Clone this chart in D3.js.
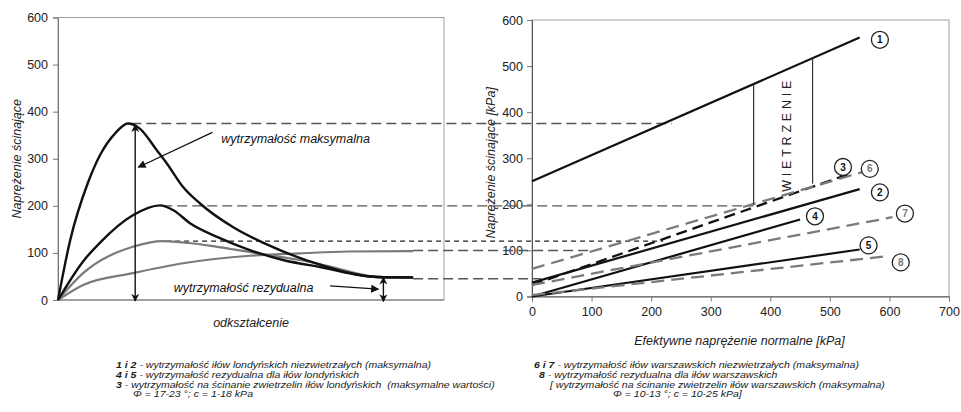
<!DOCTYPE html>
<html>
<head>
<meta charset="UTF-8">
<title>Wytrzymałość iłów</title>
<script src="https://cdn.jsdelivr.net/npm/d3@7"></script>
<style>
  body { margin: 0; background: #fff; }
  svg { display: block; font-family: "Liberation Sans", Arial, sans-serif; }
  .legend text { white-space: pre; }
</style>
</head>
<body>
<svg id="chart" width="961" height="412"></svg>
<script>
  // --- left chart: stress vs strain curves (strain in arbitrary units 0-100)
  const curve1 = [[0,0],[3.1,125],[7.8,250],[10.9,308],[14.8,354],[18.1,375],[21.2,364],[25.6,318],[28.2,290],[32.4,240],[36.8,205],[45.3,155],[54.1,118],[67.9,75],[82.6,49],[92,48]];
  const curve2 = [[0,0],[6.5,82],[10.9,122],[19.4,180],[26.4,201],[30,190],[34.2,163],[41.2,134],[49.7,106],[58.3,85],[67.9,70],[82.6,49],[92,48]];
  const curve3 = [[0,0],[6.5,57],[19.4,113],[27.2,125],[34,121],[41.2,113],[54.1,96],[62.7,85],[70,72],[82.6,49],[92,47]];
  const curve4 = [[0,0],[6.5,32],[19.4,57],[32.4,78],[49.7,94],[62.7,99],[75,103],[92,104]];
  const leftTicks = [0, 100, 200, 300, 400, 500, 600];

  // --- right chart: Coulomb envelopes [kPa]
  const lineIds = ["1", "2", "3", "4", "5", "6", "7", "8"];
  const lineX0 = [0, 0, 0, 0, 0, 0, 0, 0];
  const lineY0 = [250, 30, 25, 0, 0, 60, 25, 3];
  const lineX1 = [550, 550, 537, 450, 550, 560, 605, 600];
  const lineY1 = [562, 233, 268, 167, 102, 272, 172, 88];
  const lineKind = ["solid", "solid", "blackdash", "solid", "solid", "graydash", "graydash", "graydash"];
  const labelX = [584, 584, 522, 475, 565, 567, 626, 619];
  const labelY = [557, 226, 281, 174, 111, 277, 180, 74];
  const rightXTicks = [0, 100, 200, 300, 400, 500, 600, 700];
  const rightYTicks = [0, 100, 200, 300, 400, 500, 600];

  // weathering markers (kPa): x, top, bottom
  const weatherX = [372, 471];
  const weatherTop = [461, 517];
  const weatherBottom = [200, 245];

  // horizontal guides: level on left scale, start strain, end normal stress on right
  const guideLevel = [375, 200, 125, 105, 45];
  const guideStart = [19, 27, 28, 92, 92];
  const guideEnd = [235, 372, 220, 100, 15];
  const guideStyle = ["long", "long", "short", "long", "long"];

  const legendLeft = [
    ["1 i 2", " - wytrzymałość iłów londyńskich niezwietrzałych (maksymalna)"],
    ["4 i 5", " - wytrzymałość rezydualna dla iłów londyńskich"],
    ["3", " - wytrzymałość na ścinanie zwietrzelin iłów londyńskich  (maksymalne wartości)"],
    ["", "Φ = 17-23 °; c = 1-18 kPa"]
  ];
  const legendLeftIndent = [0, 0, 0, 17];
  const legendRight = [
    ["6 i 7", " - wytrzymałość iłów warszawskich niezwietrzałych (maksymalna)"],
    ["8", " - wytrzymałość rezydualna dla iłów warszawskich"],
    ["", "[ wytrzymałość na ścinanie zwietrzelin iłów warszawskich (maksymalna)"],
    ["", "Φ = 10-13 °; c = 10-25 kPa]"]
  ];
  const legendRightIndent = [0, 5, 16, 79];

  const svg = d3.select("#chart");

  // markers
  const defs = svg.append("defs");
  defs.append("marker").attr("id", "head")
    .attr("viewBox", "0 0 10 10").attr("refX", 9).attr("refY", 5)
    .attr("markerWidth", 10).attr("markerHeight", 8).attr("markerUnits", "userSpaceOnUse")
    .attr("orient", "auto-start-reverse")
    .append("path").attr("d", "M0,0 L10,5 L0,10 z").attr("fill", "#111");
  defs.append("marker").attr("id", "vhead")
    .attr("viewBox", "0 0 10 10").attr("refX", 9).attr("refY", 5)
    .attr("markerWidth", 8).attr("markerHeight", 8).attr("markerUnits", "userSpaceOnUse")
    .attr("orient", "auto-start-reverse")
    .append("path").attr("d", "M0,0 L10,5 L0,10 L3,5 z").attr("fill", "#111");

  // scales
  const lx = d3.scaleLinear().domain([0, 100]).range([58, 444]);
  const ly = d3.scaleLinear().domain([0, 600]).range([300, 17.5]);
  const rx = d3.scaleLinear().domain([0, 700]).range([532, 949]);
  const ry = d3.scaleLinear().domain([0, 600]).range([296.5, 20]);

  // ---------- left chart frame
  svg.append("rect").attr("x", lx(0)).attr("y", ly(600))
    .attr("width", lx(100) - lx(0)).attr("height", ly(0) - ly(600))
    .attr("fill", "none").attr("stroke", "#a0a0a0").attr("stroke-width", 1);

  const lAxis = svg.append("g").attr("transform", `translate(${lx(0)},0)`)
    .call(d3.axisLeft(ly).tickValues(leftTicks).tickSize(5).tickPadding(5));
  lAxis.select(".domain").attr("stroke", "#777");
  lAxis.selectAll(".tick line").attr("stroke", "#777");
  lAxis.selectAll("text").attr("font-size", 12.5).attr("fill", "#222")
    .attr("font-family", "'Liberation Sans', Arial, sans-serif");
  svg.append("line").attr("x1", lx(0)).attr("x2", lx(100)).attr("y1", ly(0)).attr("y2", ly(0))
    .attr("stroke", "#777");

  // ---------- right chart frame
  svg.append("rect").attr("x", rx(0)).attr("y", ry(600))
    .attr("width", rx(700) - rx(0)).attr("height", ry(0) - ry(600))
    .attr("fill", "none").attr("stroke", "#a0a0a0").attr("stroke-width", 1);

  const rAxisY = svg.append("g").attr("transform", `translate(${rx(0)},0)`)
    .call(d3.axisLeft(ry).tickValues(rightYTicks).tickSize(5).tickPadding(4));
  const rAxisX = svg.append("g").attr("transform", `translate(0,${ry(0)})`)
    .call(d3.axisBottom(rx).tickValues(rightXTicks).tickSize(5).tickPadding(6));
  [rAxisY, rAxisX].forEach(g => {
    g.select(".domain").attr("stroke", "#555");
    g.selectAll(".tick line").attr("stroke", "#777");
    g.selectAll("text").attr("font-size", 12.5).attr("fill", "#222")
      .attr("font-family", "'Liberation Sans', Arial, sans-serif");
  });

  // ---------- horizontal guide lines (drawn across both charts)
  guideLevel.forEach((v, i) => {
    const short = guideStyle[i] === "short";
    svg.append("line")
      .attr("x1", lx(guideStart[i])).attr("x2", rx(guideEnd[i]))
      .attr("y1", ly(v)).attr("y2", ly(v))
      .attr("stroke", short ? "#222" : "#555")
      .attr("stroke-width", short ? 1.1 : 1.4)
      .attr("stroke-dasharray", short ? "5,4" : "10,5");
  });

  // ---------- left curves
  const lline = d3.line().x(d => lx(d[0])).y(d => ly(d[1])).curve(d3.curveMonotoneX);
  [[curve4, "#7a7a7a", 2.2], [curve3, "#7a7a7a", 2.2], [curve2, "#111", 2.4], [curve1, "#111", 2.4]]
    .forEach(([data, col, w]) => {
      svg.append("path").datum(data).attr("d", lline)
        .attr("fill", "none").attr("stroke", col).attr("stroke-width", w);
    });

  // annotations on left chart
  svg.append("line").attr("x1", lx(20)).attr("x2", lx(20))
    .attr("y1", ly(372)).attr("y2", ly(-2))
    .attr("stroke", "#111").attr("stroke-width", 1.4)
    .attr("marker-start", "url(#vhead)").attr("marker-end", "url(#vhead)");
  svg.append("line").attr("x1", lx(40)).attr("x2", lx(20.8))
    .attr("y1", ly(356)).attr("y2", ly(282))
    .attr("stroke", "#111").attr("stroke-width", 1.3).attr("marker-end", "url(#head)");
  svg.append("text").attr("x", lx(42.3)).attr("y", ly(333))
    .attr("font-size", 12.5).attr("font-style", "italic").attr("fill", "#111")
    .text("wytrzymałość maksymalna");

  svg.append("text").attr("x", lx(30)).attr("y", ly(18))
    .attr("font-size", 12.5).attr("font-style", "italic").attr("fill", "#111")
    .text("wytrzymałość rezydualna");
  svg.append("line").attr("x1", lx(70.5)).attr("x2", lx(83))
    .attr("y1", ly(30)).attr("y2", ly(23))
    .attr("stroke", "#111").attr("stroke-width", 1.3).attr("marker-end", "url(#head)");
  svg.append("line").attr("x1", lx(84.3)).attr("x2", lx(84.3))
    .attr("y1", ly(48)).attr("y2", ly(-3))
    .attr("stroke", "#111").attr("stroke-width", 1.4)
    .attr("marker-start", "url(#vhead)").attr("marker-end", "url(#vhead)");

  // ---------- right chart lines
  lineIds.forEach((id, i) => {
    const k = lineKind[i];
    svg.append("line")
      .attr("x1", rx(lineX0[i])).attr("y1", ry(lineY0[i]))
      .attr("x2", rx(lineX1[i])).attr("y2", ry(lineY1[i]))
      .attr("stroke", k === "graydash" ? "#7a7a7a" : "#111")
      .attr("stroke-width", k === "solid" ? 2.2 : 2.3)
      .attr("stroke-dasharray", k === "solid" ? null : (k === "blackdash" ? "11,6" : "13,7"));
  });

  // weathering verticals
  weatherX.forEach((x, i) => {
    svg.append("line").attr("x1", rx(x)).attr("x2", rx(x))
      .attr("y1", ry(weatherTop[i])).attr("y2", ry(weatherBottom[i]))
      .attr("stroke", "#333").attr("stroke-width", 1.2);
  });
  svg.append("text")
    .attr("transform", `translate(${rx(428)},${ry(352)}) rotate(-90)`)
    .attr("text-anchor", "middle").attr("dy", "0.35em")
    .attr("font-size", 12.5).attr("letter-spacing", 3.8).attr("fill", "#222")
    .text("WIETRZENIE");

  // circled labels
  lineIds.forEach((id, i) => {
    const g = svg.append("g").attr("transform", `translate(${rx(labelX[i])},${ry(labelY[i])})`);
    g.append("circle").attr("r", 8.5).attr("fill", "#fff")
      .attr("stroke", "#222").attr("stroke-width", 1.3);
    g.append("text").attr("text-anchor", "middle").attr("dy", "0.36em")
      .attr("font-size", 10).attr("font-weight", "bold")
      .attr("fill", lineKind[i] === "graydash" ? "#777" : "#111")
      .text(id);
  });

  // ---------- axis titles
  svg.append("text").attr("transform", `translate(17,${ly(300)}) rotate(-90)`)
    .attr("text-anchor", "middle").attr("dy", "0.35em")
    .attr("font-size", 12.5).attr("font-style", "italic").attr("fill", "#222")
    .text("Naprężenie ścinające");
  svg.append("text").attr("x", lx(50)).attr("y", 327)
    .attr("text-anchor", "middle")
    .attr("font-size", 12.5).attr("font-style", "italic").attr("fill", "#222")
    .text("odkształcenie");
  svg.append("text").attr("transform", `translate(491,${ry(290)}) rotate(-90)`)
    .attr("text-anchor", "middle").attr("dy", "0.35em")
    .attr("font-size", 12.5).attr("font-style", "italic").attr("fill", "#222")
    .text("Naprężenie ścinające [kPa]");
  svg.append("text").attr("x", rx(0) + (rx(700) - rx(0)) / 2 - 1).attr("y", 345)
    .attr("text-anchor", "middle")
    .attr("font-size", 12.5).attr("font-style", "italic").attr("fill", "#222")
    .text("Efektywne naprężenie normalne [kPa]");

  // ---------- legend blocks (slightly stretched horizontally, like the source)
  const sx = 1.17;
  function legendBlock(rows, indents, x0, y0) {
    const g = svg.append("g").attr("class", "legend")
      .attr("transform", `translate(${x0},0) scale(${sx},1)`);
    rows.forEach((r, i) => {
      const t = g.append("text").attr("x", indents[i] / sx).attr("y", y0 + i * 9.8)
        .attr("font-size", 9).attr("font-style", "italic").attr("fill", "#1a1a1a");
      if (r[0]) t.append("tspan").attr("font-weight", "bold").text(r[0]);
      t.append("tspan").text(r[1]);
    });
  }
  legendBlock(legendLeft, legendLeftIndent, 116, 368);
  legendBlock(legendRight, legendRightIndent, 534, 368);
</script>
</body>
</html>
